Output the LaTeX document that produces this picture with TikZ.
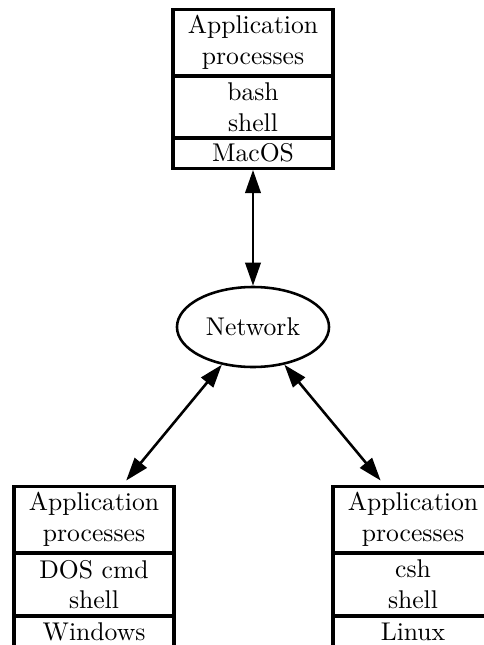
\documentclass[tikz,border=0pt]{standalone}
\usetikzlibrary{arrows.meta,shapes.geometric}
\begin{document}
\begin{tikzpicture}[x=0.39pt,y=-0.39pt,
  cell/.style={draw,line width=1.2pt,minimum width=62.4pt,inner sep=0pt,align=center,anchor=center},
  capa/.style={cell,minimum height=26.1pt},
  capb/.style={cell,minimum height=24.4pt},
  capc/.style={cell,minimum height=12pt},
  netnode/.style={draw,ellipse,line width=1pt,minimum width=59.3pt,minimum height=31.2pt,inner sep=0pt},
  arr/.style={line width=1pt,{Triangle[length=9pt,width=6pt]}-{Triangle[length=9pt,width=6pt]}}
]
\useasboundingbox (0,0) rectangle (484,645);
\clip (0,0) rectangle (484,645);
% top stack
\node[capa] (tapp) at (253,42.5) {Application\\processes};
\node[capb] (tsh)  at (253,107) {bash\\shell};
\node[capc] (tos)  at (253,153) {MacOS};
% network
\node[netnode] (net) at (253,327) {Network};
% left stack
\node[capa] (lapp) at (94,519.5) {Application\\processes};
\node[capb] (lsh)  at (94,584.5) {DOS cmd\\shell};
\node[capc] (los)  at (94,632) {Windows};
% right stack
\node[capa] (rapp) at (413,519.5) {Application\\processes};
\node[capb] (rsh)  at (413,584.5) {csh\\shell};
\node[capc] (ros)  at (413,632) {Linux};
% connectors
\draw[arr] (tos.south) -- (net.north);
\draw[arr,shorten >=2pt] (net) -- (lapp);
\draw[arr,shorten >=2pt] (net) -- (rapp);
\end{tikzpicture}
\end{document}
